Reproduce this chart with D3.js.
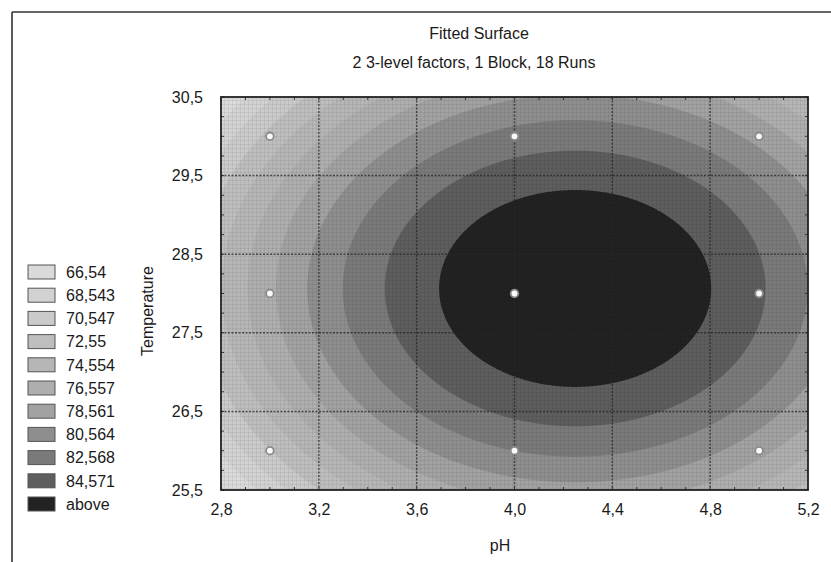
<!DOCTYPE html>
<html>
<head>
<meta charset="utf-8">
<script src="https://cdn.jsdelivr.net/npm/d3@7/dist/d3.min.js"></script>
<style>
  html, body { margin: 0; padding: 0; background: #fff; }
  svg { display: block; }
  text { font-family: "Liberation Sans", Arial, sans-serif; fill: #1a1a1a; }
</style>
</head>
<body>
<svg id="chart" width="831" height="562"></svg>
<script>
// ---------- data ----------
const titleText = "Fitted Surface";
const subtitleText = "2 3-level factors, 1 Block, 18 Runs";
const xLabel = "pH";
const yLabel = "Temperature";

const phTicks = [2.8, 3.2, 3.6, 4.0, 4.4, 4.8, 5.2];
const tempTicks = [25.5, 26.5, 27.5, 28.5, 29.5, 30.5];
const phTickLabels = ["2,8", "3,2", "3,6", "4,0", "4,4", "4,8", "5,2"];
const tempTickLabels = ["25,5", "26,5", "27,5", "28,5", "29,5", "30,5"];

// contour levels (legend)
const levels = [66.54, 68.543, 70.547, 72.55, 74.554, 76.557, 78.561, 80.564, 82.568, 84.571];
const legendLabels = ["66,54", "68,543", "70,547", "72,55", "74,554", "76,557", "78,561", "80,564", "82,568", "84,571", "above"];
const bandColors = ["#dadada", "#d2d2d2", "#cacaca", "#bebebe", "#b6b6b6", "#aeaeae", "#a2a2a2", "#8e8e8e", "#7a7a7a", "#5e5e5e", "#222222"];

// fitted quadratic surface:
// z = peakValue - curvature[0]*(pH - peakCenter[0])^2 - curvature[1]*(T - peakCenter[1])^2
const peakCenter = [4.248, 28.064];
const peakValue = 86.66;
const curvature = [6.75, 1.331];

// design points
const designPH   = [3, 4, 5, 3, 4, 5, 3, 4, 5];
const designTemp = [30, 30, 30, 28, 28, 28, 26, 26, 26];

// ---------- layout ----------
const svg = d3.select("#chart");
const L = 221, R = 808, T = 97, B = 490;

const x = d3.scaleLinear().domain([2.8, 5.2]).range([L, R]);
const y = d3.scaleLinear().domain([25.5, 30.5]).range([B, T]);

// page frame lines (scan border)
svg.append("line").attr("x1", 12).attr("x2", 831).attr("y1", 12).attr("y2", 12)
  .attr("stroke", "#333").attr("stroke-width", 1.6);
svg.append("line").attr("x1", 12).attr("x2", 12).attr("y1", 12).attr("y2", 562)
  .attr("stroke", "#333").attr("stroke-width", 1.6);

// ---------- surface ----------
const nx = 400, ny = 270;
const [x0, x1] = x.domain(), [y0, y1] = y.domain();
const values = new Array(nx * ny);
for (let j = 0; j < ny; j++) {
  const tv = y1 - (j + 0.5) / ny * (y1 - y0);
  for (let i = 0; i < nx; i++) {
    const pv = x0 + (i + 0.5) / nx * (x1 - x0);
    values[j * nx + i] = peakValue
      - curvature[0] * (pv - peakCenter[0]) ** 2
      - curvature[1] * (tv - peakCenter[1]) ** 2;
  }
}
const contours = d3.contours().size([nx, ny]).smooth(true).thresholds(levels)(values);

const proj = d3.geoTransform({
  point: function(px, py) {
    this.stream.point(
      x(x0 + px / nx * (x1 - x0)),
      y(y1 - py / ny * (y1 - y0))
    );
  }
});
const path = d3.geoPath(proj);

const clip = svg.append("clipPath").attr("id", "plotClip");
clip.append("rect").attr("x", L).attr("y", T).attr("width", R - L).attr("height", B - T);

const plot = svg.append("g").attr("clip-path", "url(#plotClip)");
plot.append("rect").attr("x", L).attr("y", T).attr("width", R - L).attr("height", B - T)
  .attr("fill", bandColors[0]);
plot.selectAll("path.band").data(contours).join("path")
  .attr("class", "band")
  .attr("d", path)
  .attr("fill", (d, i) => bandColors[i + 1]);

// fine halftone grid texture
const defs = svg.append("defs");
const pat = defs.append("pattern").attr("id", "tex").attr("patternUnits", "userSpaceOnUse")
  .attr("width", 4).attr("height", 4);
pat.append("path").attr("d", "M0,0.5H4M0.5,0V4").attr("stroke", "rgba(0,0,0,0.06)").attr("stroke-width", 1);
plot.append("rect").attr("x", L).attr("y", T).attr("width", R - L).attr("height", B - T)
  .attr("fill", "url(#tex)");

// major grid lines (dotted)
const gridStyle = sel => sel.attr("stroke", "#262626").attr("stroke-width", 1.5)
  .attr("stroke-dasharray", "2,1.5").attr("opacity", 0.75);
plot.selectAll("line.gx").data(phTicks.slice(1, -1)).join("line")
  .attr("x1", d => x(d)).attr("x2", d => x(d)).attr("y1", T).attr("y2", B).call(gridStyle);
plot.selectAll("line.gy").data(tempTicks.slice(1, -1)).join("line")
  .attr("y1", d => y(d)).attr("y2", d => y(d)).attr("x1", L).attr("x2", R).call(gridStyle);

// design points
plot.selectAll("circle.pt").data(designPH.map((p, i) => [p, designTemp[i]])).join("circle")
  .attr("cx", d => x(d[0])).attr("cy", d => y(d[1])).attr("r", 3.8)
  .attr("fill", "#fafafa").attr("stroke", "#8a8a8a").attr("stroke-width", 1.8);

// minor ticks inside frame
const minorX = d3.range(28, 53).map(v => v / 10);
const minorY = d3.range(0, 21).map(v => 25.5 + v * 0.25);
const tickG = svg.append("g").attr("stroke", "#333").attr("stroke-width", 1);
tickG.selectAll("line.tb").data(minorX).join("line")
  .attr("x1", d => x(d)).attr("x2", d => x(d)).attr("y1", B).attr("y2", B - 3);
tickG.selectAll("line.tt").data(minorX).join("line")
  .attr("x1", d => x(d)).attr("x2", d => x(d)).attr("y1", T).attr("y2", T + 3);
tickG.selectAll("line.tl").data(minorY).join("line")
  .attr("y1", d => y(d)).attr("y2", d => y(d)).attr("x1", L).attr("x2", L + 3);
tickG.selectAll("line.tr").data(minorY).join("line")
  .attr("y1", d => y(d)).attr("y2", d => y(d)).attr("x1", R).attr("x2", R - 3);

// frame
svg.append("rect").attr("x", L).attr("y", T).attr("width", R - L).attr("height", B - T)
  .attr("fill", "none").attr("stroke", "#222").attr("stroke-width", 1.8);

// ---------- axes ----------
const xAxis = d3.axisBottom(x).tickValues(phTicks).tickSize(0).tickPadding(14)
  .tickFormat((d, i) => phTickLabels[i]);
const gx = svg.append("g").attr("transform", `translate(0,${B})`).call(xAxis);
gx.select(".domain").remove();
gx.selectAll("text").attr("font-size", 16).attr("fill", "#1a1a1a")
  .style("font-family", '"Liberation Sans", Arial, sans-serif');

const yAxis = d3.axisLeft(y).tickValues(tempTicks).tickSize(0).tickPadding(18)
  .tickFormat((d, i) => tempTickLabels[i]);
const gy = svg.append("g").attr("transform", `translate(${L},0)`).call(yAxis);
gy.select(".domain").remove();
gy.selectAll("text").attr("font-size", 16).attr("fill", "#1a1a1a")
  .style("font-family", '"Liberation Sans", Arial, sans-serif');

// titles
svg.append("text").attr("x", 479).attr("y", 39).attr("text-anchor", "middle")
  .attr("font-size", 16).text(titleText);
svg.append("text").attr("x", 474).attr("y", 68).attr("text-anchor", "middle")
  .attr("font-size", 16).text(subtitleText);
svg.append("text").attr("x", 500).attr("y", 551).attr("text-anchor", "middle")
  .attr("font-size", 16).text(xLabel);
svg.append("text").attr("transform", "translate(153,311) rotate(-90)")
  .attr("text-anchor", "middle").attr("font-size", 16).text(yLabel);

// ---------- legend ----------
const lg = svg.append("g");
const rowY = i => 272 + i * 23.2;
lg.selectAll("rect").data(legendLabels).join("rect")
  .attr("x", 28).attr("y", (d, i) => rowY(i) - 7).attr("width", 27).attr("height", 14)
  .attr("fill", (d, i) => bandColors[i]).attr("stroke", "#555").attr("stroke-width", 1);
lg.selectAll("text").data(legendLabels).join("text")
  .attr("x", 66).attr("y", (d, i) => rowY(i)).attr("dy", "0.36em")
  .attr("font-size", 16).text(d => d);
</script>
</body>
</html>
